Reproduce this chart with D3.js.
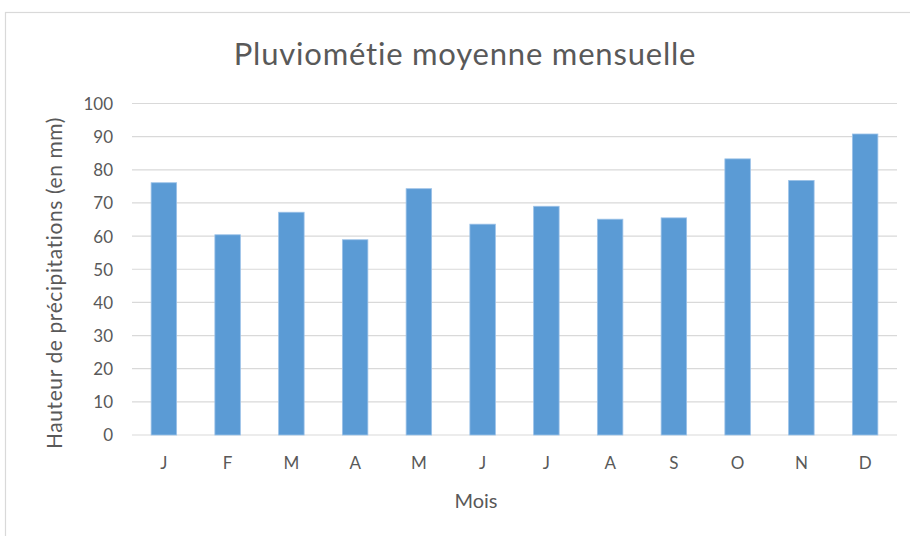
<!DOCTYPE html>
<html>
<head>
<meta charset="utf-8">
<script src="https://cdn.jsdelivr.net/npm/d3@7"></script>
<style>
  body { margin: 0; background: #fff; }
  svg text { font-family: Lato, "Open Sans", sans-serif; fill: #595959; }
</style>
</head>
<body>
<svg id="chart" width="910" height="536"></svg>
<script>
// data
const months = ["J", "F", "M", "A", "M", "J", "J", "A", "S", "O", "N", "D"];
const rain = [76.1, 60.4, 67.2, 58.9, 74.3, 63.6, 69.0, 65.1, 65.5, 83.3, 76.8, 90.8];
const yTicks = [0, 10, 20, 30, 40, 50, 60, 70, 80, 90, 100];

const svg = d3.select("#chart");
const width = 910, height = 536;
const margin = { top: 103.5, right: 13, bottom: 101, left: 132 };

// chart area frame (Excel style)
svg.append("rect").attr("x", 5.5).attr("y", 12.5).attr("width", 1000).attr("height", 1000)
   .attr("fill", "#fff").attr("stroke", "#d9d9d9").attr("stroke-width", 1.2);

const x = d3.scaleBand().domain(d3.range(months.length))
    .range([margin.left, width - margin.right]).paddingInner(0.6).paddingOuter(0.3);
const y = d3.scaleLinear().domain([0, 100]).range([height - margin.bottom, margin.top]);

// gridlines
svg.append("g").selectAll("line").data(yTicks).join("line")
   .attr("x1", margin.left).attr("x2", width - margin.right)
   .attr("y1", d => y(d)).attr("y2", d => y(d))
   .attr("stroke", "#d9d9d9").attr("stroke-width", 1.2);

// y axis labels
const yAxis = svg.append("g").attr("transform", `translate(${margin.left - 19},0)`)
   .call(d3.axisLeft(y).tickValues(yTicks).tickSize(0).tickPadding(0));
yAxis.select(".domain").remove();
yAxis.selectAll("text").style("font-size", "17px").attr("fill", "#595959").attr("dy", "0.35em");

// bars
svg.append("g").selectAll("rect").data(rain).join("rect")
   .attr("x", (d, i) => x(i)).attr("width", x.bandwidth())
   .attr("y", d => y(d)).attr("height", d => y(0) - y(d))
   .attr("fill", "#5b9bd5").attr("stroke", "#9cc2e8").attr("stroke-width", 0.8);

// x axis labels
const xAxis = svg.append("g").attr("transform", `translate(0,${y(0)})`)
   .call(d3.axisBottom(x).tickFormat(i => months[i]).tickSize(0).tickPadding(22));
xAxis.select(".domain").remove();
xAxis.selectAll("text").style("font-size", "17px").attr("fill", "#595959");

// titles
svg.append("text").attr("x", 465).attr("y", 65).attr("text-anchor", "middle")
   .style("font-size", "31px").style("letter-spacing", "0.8px").text("Pluviométie moyenne mensuelle");
svg.append("text").attr("x", 476).attr("y", 508).attr("text-anchor", "middle")
   .style("font-size", "20px").text("Mois");
svg.append("text").attr("transform", "translate(62,283) rotate(-90)").attr("text-anchor", "middle")
   .style("font-size", "21px").style("letter-spacing", "0.6px").text("Hauteur de précipitations (en mm)");
</script>
</body>
</html>
